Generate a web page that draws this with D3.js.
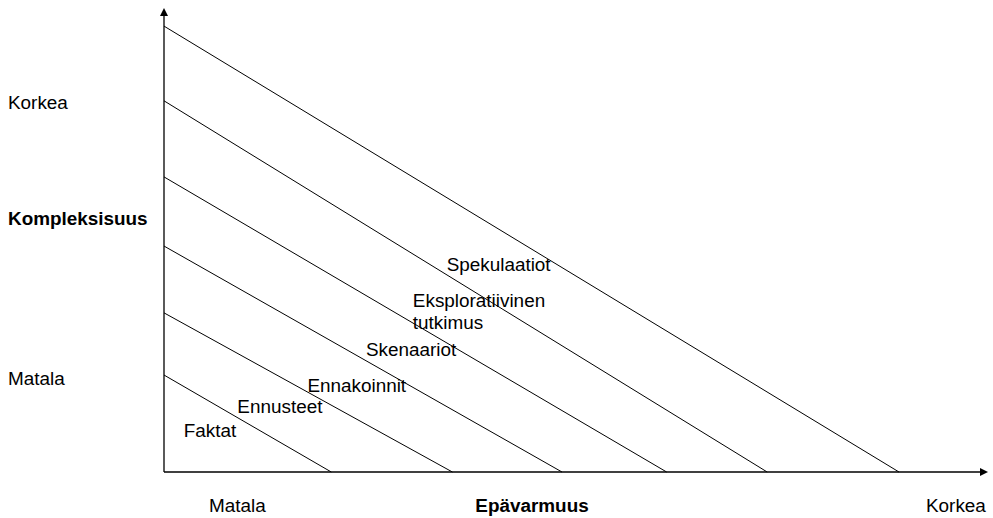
<!DOCTYPE html>
<html>
<head>
<meta charset="utf-8">
<script src="https://cdn.jsdelivr.net/npm/d3@7"></script>
<style>
  body { margin: 0; background: #fff; }
  text { font-family: "Liberation Sans", Arial, sans-serif; fill: #000; }
</style>
</head>
<body>
<svg width="993" height="518"></svg>
<script>
// Boundary lines: where each band meets the y axis and the x axis (0..100 units)
var yIntercepts = [20.9, 34.3, 48.7, 63.6, 80.0, 96.1]
var xIntercepts = [20.3, 35.0, 48.3, 61.0, 73.2, 89.2]

// Band names and where they sit (same units)
var bandNames = ["Faktat", "Ennusteet", "Ennakoinnit", "Skenaariot", ["Eksploratiivinen", "tutkimus"], "Spekulaatiot"]
var bandX = [2.4, 8.9, 17.4, 24.5, 30.2, 34.3]
var bandY = [7.5, 12.7, 17.2, 25.0, 35.6, 43.3]

// Axis texts
var yTitle = "Kompleksisuus"
var xTitle = "Epävarmuus"
var lowLabel = "Matala"
var highLabel = "Korkea"

var svg = d3.select("svg")
var x = d3.scaleLinear().domain([0, 100]).range([164, 988])
var y = d3.scaleLinear().domain([0, 100]).range([472, 8])
var fs = "18.9px"

// diagonal lines
svg.append("g")
  .selectAll("line")
  .data(yIntercepts)
  .enter()
  .append("line")
  .attr("x1", x(0))
  .attr("y1", d => y(d))
  .attr("x2", (d, i) => x(xIntercepts[i]))
  .attr("y2", y(0))
  .attr("stroke", "#000")
  .attr("stroke-width", 1)

// axes with arrow heads
svg.append("line")
  .attr("x1", x(0)).attr("y1", y(0))
  .attr("x2", x(0)).attr("y2", y(100) + 6)
  .attr("stroke", "#000").attr("stroke-width", 1.3)
svg.append("line")
  .attr("x1", x(0)).attr("y1", y(0))
  .attr("x2", x(100) - 6).attr("y2", y(0))
  .attr("stroke", "#000").attr("stroke-width", 1.3)
svg.append("path")
  .attr("d", d3.line()([[x(0), y(100)], [x(0) - 4, y(100) + 8], [x(0) + 4, y(100) + 8]]) + "Z")
  .attr("fill", "#000")
svg.append("path")
  .attr("d", d3.line()([[x(100), y(0)], [x(100) - 8, y(0) - 4], [x(100) - 8, y(0) + 4]]) + "Z")
  .attr("fill", "#000")

// band labels
svg.append("g")
  .selectAll("text")
  .data(bandNames)
  .enter()
  .append("text")
  .attr("x", (d, i) => x(bandX[i]))
  .attr("y", (d, i) => y(bandY[i]))
  .style("font-size", fs)
  .each(function(d) {
    var t = d3.select(this)
    var lines = Array.isArray(d) ? d : [d]
    lines.forEach(function(s, k) {
      t.append("tspan")
        .attr("x", t.attr("x"))
        .attr("dy", k == 0 ? 0 : 22)
        .text(s)
    })
  })

// axis texts
svg.append("text").attr("x", 8).attr("y", 109).style("font-size", fs).text(highLabel)
svg.append("text").attr("x", 8).attr("y", 225).style("font-size", fs).style("font-weight", "bold").text(yTitle)
svg.append("text").attr("x", 8).attr("y", 385).style("font-size", fs).text(lowLabel)
svg.append("text").attr("x", 209).attr("y", 512).style("font-size", fs).text(lowLabel)
svg.append("text").attr("x", 532).attr("y", 512).style("font-size", fs).style("font-weight", "bold")
  .attr("text-anchor", "middle").text(xTitle)
svg.append("text").attr("x", 926).attr("y", 512).style("font-size", fs).text(highLabel)
</script>
</body>
</html>
